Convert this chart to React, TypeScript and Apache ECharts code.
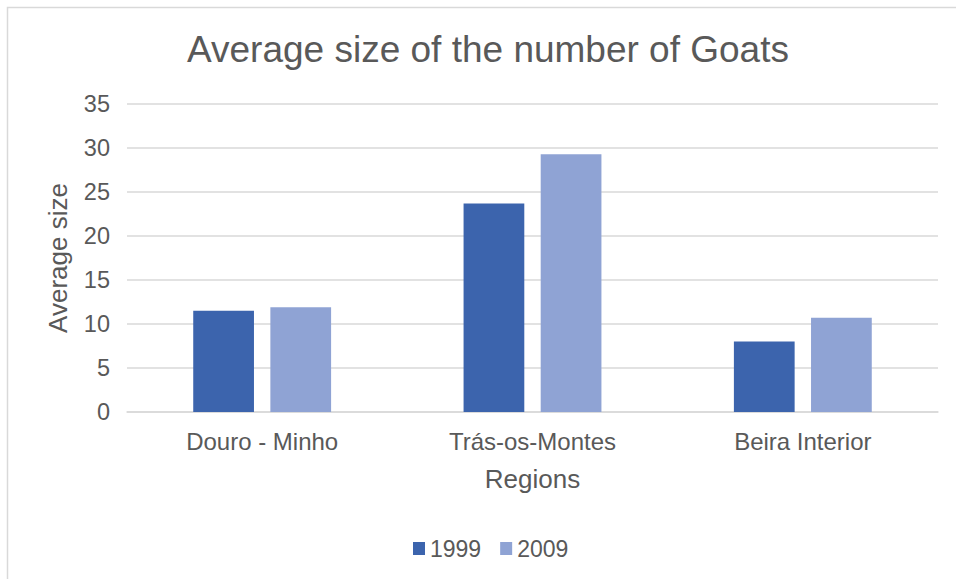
import React, { useEffect, useRef } from "react";
import * as echarts from "echarts";

const regions = ["Douro - Minho", "Trás-os-Montes", "Beira Interior"];
const years = ["1999", "2009"];
const values1999 = [11.5, 23.7, 8.0];
const values2009 = [11.9, 29.3, 10.7];
const yTicks = { min: 0, max: 35, interval: 5 };

const FONT = "'Liberation Sans', Arial, sans-serif";
const TEXT = "#595959";
const GRID = "#d9d9d9";
const COLORS = ["#3C64AD", "#8FA3D4"];

export default function App() {
  const ref = useRef<HTMLDivElement>(null);

  useEffect(() => {
    if (!ref.current) return;
    const chart = echarts.init(ref.current, undefined, { renderer: "svg" });
    chart.setOption({
      animation: false,
      backgroundColor: "#ffffff",
      textStyle: { fontFamily: FONT, color: TEXT },
      title: {
        text: "Average size of the number of Goats",
        left: 488,
        textAlign: "center",
        top: 31,
        padding: 0,
        textStyle: { fontFamily: FONT, fontSize: 37, fontWeight: "normal", color: TEXT },
      },
      legend: {
        data: years,
        top: 532,
        left: 408,
        itemWidth: 12,
        itemHeight: 13,
        itemGap: 19,
        icon: "rect",
        textStyle: { fontFamily: FONT, fontSize: 23, color: TEXT },
      },
      grid: { left: 127, right: 18, top: 104, bottom: 167, containLabel: false },
      xAxis: {
        type: "category",
        data: regions,
        name: "Regions",
        nameLocation: "middle",
        nameGap: 54,
        nameTextStyle: { fontFamily: FONT, fontSize: 26, color: TEXT },
        axisLine: { lineStyle: { color: GRID, width: 1.5 } },
        axisTick: { show: false },
        axisLabel: { fontFamily: FONT, fontSize: 24, color: TEXT, margin: 17 },
      },
      yAxis: {
        type: "value",
        min: yTicks.min,
        max: yTicks.max,
        interval: yTicks.interval,
        name: "Average size",
        nameLocation: "middle",
        nameGap: 56,
        nameTextStyle: { fontFamily: FONT, fontSize: 26, color: TEXT },
        axisLine: { show: false },
        axisTick: { show: false },
        axisLabel: { fontFamily: FONT, fontSize: 23.5, color: TEXT, margin: 17 },
        splitLine: { lineStyle: { color: GRID, width: 1.5 } },
      },
      series: [
        {
          name: years[0],
          type: "bar",
          data: values1999,
          itemStyle: { color: COLORS[0] },
          barGap: "27%",
          barCategoryGap: "49%",
        },
        {
          name: years[1],
          type: "bar",
          data: values2009,
          itemStyle: { color: COLORS[1] },
          barGap: "27%",
          barCategoryGap: "49%",
        },
      ],
      graphic: [
        {
          type: "polyline",
          shape: { points: [[7.5, 579], [7.5, 7.5], [956, 7.5]] },
          style: { stroke: GRID, lineWidth: 1.5, fill: "none" },
          silent: true,
        },
      ],
    });
    return () => chart.dispose();
  }, []);

  return (
    <div
      ref={ref}
      style={{ position: "fixed", left: 0, top: 0, width: 956, height: 579 }}
    />
  );
}
